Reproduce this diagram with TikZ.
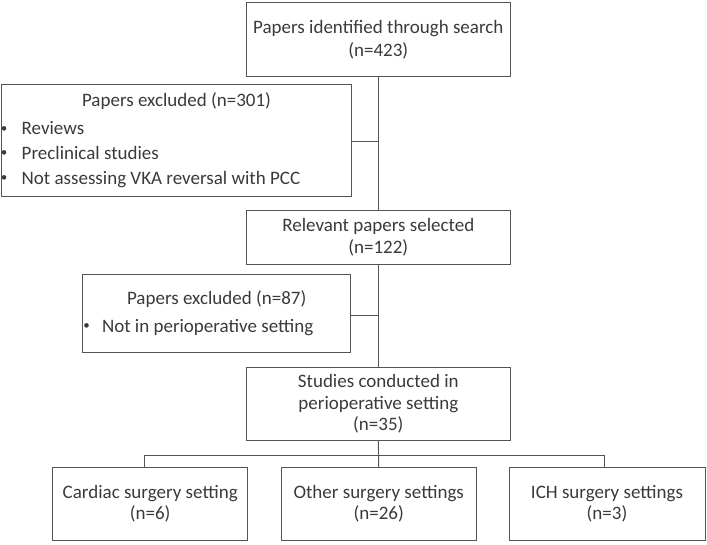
\documentclass[tikz,border=0pt]{standalone}
\usepackage{fontspec}
\setmainfont{Carlito}
\definecolor{linec}{HTML}{555555}
\definecolor{textc}{HTML}{3A3A3A}
\begin{document}
\begin{tikzpicture}[x=1pt,y=-1pt,
  box/.style={draw=linec, line width=0.9pt, inner sep=0pt, outer sep=0pt},
  txt/.style={text=textc, font=\fontsize{19}{21.5}\selectfont, align=center, inner sep=0pt},
  bul/.style={text=textc, font=\fontsize{13}{13}\selectfont, inner sep=0pt, anchor=base west},
  conn/.style={draw=linec, line width=0.9pt}]
\useasboundingbox (0,0) rectangle (707,544);
% main column
\node[box, txt, minimum width=263.4pt, minimum height=73.3pt] (b1) at (378.3,39.4) {Papers identified through search\\[1.5pt](n=423)};
\node[box, txt, minimum width=263.4pt, minimum height=54pt] (b3) at (378.3,237) {Relevant papers selected\\(n=122)};
\node[box, txt, minimum width=263.4pt, minimum height=73.4pt] (b5) at (378.3,404) {Studies conducted in\\perioperative setting\\(n=35)};
% exclusion boxes
\node[box, minimum width=350.6pt, minimum height=112.7pt] (b2) at (176.3,140.35) {};
\node[txt, anchor=base] (t2) at (176.5,106) {Papers excluded (n=301)};
\node[bul] (u1) at (0.8,132) {•};
\node[txt, anchor=base west] (r1) at (21.5,134.6) {Reviews};
\node[bul] (u2) at (0.8,156.7) {•};
\node[txt, anchor=base west] (r2) at (21.5,159.3) {Preclinical studies};
\node[bul] (u3) at (0.8,181.6) {•};
\node[txt, anchor=base west] (r3) at (21.5,184.2) {Not assessing VKA reversal with PCC};
\node[box, minimum width=267.9pt, minimum height=78.7pt] (b4) at (216.75,313.35) {};
\node[txt, anchor=base] (t4) at (216.7,304) {Papers excluded (n=87)};
\node[bul] (u4) at (83.2,329.7) {•};
\node[txt, anchor=base west] (r4) at (101.8,332.3) {Not in perioperative setting};
% bottom row
\node[box, txt, minimum width=195pt, minimum height=73pt] (b6) at (150.2,503.5) {Cardiac surgery setting\\(n=6)};
\node[box, txt, minimum width=195pt, minimum height=73pt] (b7) at (378.7,503.5) {Other surgery settings\\(n=26)};
\node[box, txt, minimum width=196pt, minimum height=73pt] (b8) at (607,503.5) {ICH surgery settings\\(n=3)};
% connectors
\coordinate (hl) at (144,455);
\coordinate (hr) at (604,455);
\coordinate (j2) at (378.5,141);
\coordinate (j4) at (378.5,315.7);
\draw[conn] (b1.south) -- (b3.north);
\draw[conn] (b3.south) -- (b5.north);
\draw[conn] (b5.south) -- (b7.north);
\draw[conn] (b2.east |- j2) -- (j2);
\draw[conn] (b4.east |- j4) -- (j4);
\draw[conn] (hl |- b6.north) -- (hl) -- (hr) -- (hr |- b8.north);
\end{tikzpicture}
\end{document}
